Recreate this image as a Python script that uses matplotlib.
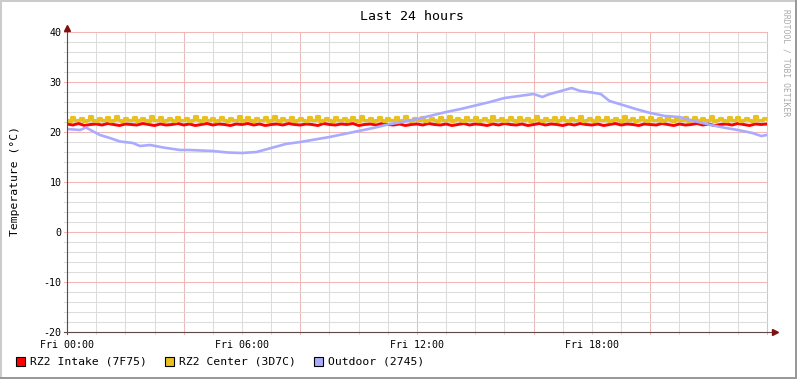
import matplotlib.pyplot as plt
import numpy as np
from matplotlib.patches import Rectangle

# data (hours since Fri 00:00, deg C)
series_names = ['RZ2 Intake (7F75)', 'RZ2 Center (3D7C)', 'Outdoor (2745)']
series_colors = ['#FF0000', '#E8C020', '#AAAAFF']

intake_hours = np.linspace(0, 24, 121)
intake = [
    21.6, 21.4, 21.7, 21.3, 21.5, 21.6, 21.4, 21.7, 21.5, 21.3,
    21.6, 21.5, 21.4, 21.7, 21.5, 21.3, 21.6, 21.4, 21.5, 21.7,
    21.4, 21.6, 21.3, 21.5, 21.7, 21.4, 21.6, 21.5, 21.3, 21.6,
    21.5, 21.7, 21.4, 21.6, 21.3, 21.5, 21.6, 21.4, 21.7, 21.5,
    21.4, 21.6, 21.5, 21.3, 21.7, 21.5, 21.4, 21.6, 21.5, 21.7,
    21.3, 21.5, 21.6, 21.4, 21.7, 21.5, 21.4, 21.6, 21.3, 21.5,
    21.6, 21.4, 21.7, 21.5, 21.4, 21.6, 21.3, 21.5, 21.7, 21.4,
    21.6, 21.5, 21.3, 21.6, 21.4, 21.7, 21.5, 21.4, 21.6, 21.3,
    21.5, 21.7, 21.4, 21.6, 21.5, 21.3, 21.6, 21.4, 21.7, 21.5,
    21.4, 21.6, 21.3, 21.5, 21.7, 21.4, 21.6, 21.5, 21.3, 21.6,
    21.5, 21.4, 21.7, 21.5, 21.3, 21.6, 21.4, 21.5, 21.7, 21.4,
    21.6, 21.3, 21.5, 21.6, 21.4, 21.7, 21.5, 21.3, 21.6, 21.5,
    21.6,
]

center_hours = np.linspace(0, 24, 241)
center = [
    22.4, 22.3, 23.1, 22.5, 22.4, 22.9, 22.3, 22.5, 23.2, 22.4, 22.3, 22.8,
    22.5, 22.4, 23.0, 22.3, 22.4, 23.2, 22.5, 22.3, 22.9, 22.4, 22.5, 23.1,
    22.3, 22.4, 22.8, 22.5, 22.3, 23.2, 22.4, 22.5, 23.0, 22.3, 22.4, 22.9,
    22.5, 22.3, 23.1, 22.4, 22.5, 22.8, 22.3, 22.4, 23.2, 22.5, 22.3, 23.0,
    22.4, 22.5, 22.9, 22.3, 22.4, 23.1, 22.5, 22.3, 22.8, 22.4, 22.5, 23.2,
    22.3, 22.5, 23.0, 22.4, 22.3, 22.9, 22.5, 22.4, 23.1, 22.3, 22.5, 23.2,
    22.4, 22.3, 22.8, 22.5, 22.4, 23.1, 22.3, 22.5, 22.9, 22.4, 22.3, 23.0,
    22.5, 22.4, 23.2, 22.3, 22.5, 22.8, 22.4, 22.3, 23.1, 22.5, 22.4, 22.9,
    22.3, 22.5, 23.1, 22.4, 22.3, 23.2, 22.5, 22.4, 22.8, 22.3, 22.5, 23.0,
    22.4, 22.3, 22.9, 22.5, 22.4, 23.1, 22.3, 22.5, 23.2, 22.4, 22.3, 22.8,
    22.5, 22.4, 23.0, 22.3, 22.5, 22.9, 22.4, 22.3, 23.1, 22.5, 22.4, 23.2,
    22.3, 22.5, 22.8, 22.4, 22.3, 23.0, 22.5, 22.4, 23.1, 22.3, 22.5, 22.9,
    22.4, 22.3, 23.2, 22.5, 22.4, 22.8, 22.3, 22.5, 23.0, 22.4, 22.3, 23.1,
    22.5, 22.4, 22.9, 22.3, 22.5, 23.2, 22.4, 22.3, 22.8, 22.5, 22.4, 23.0,
    22.3, 22.5, 23.1, 22.4, 22.3, 22.9, 22.5, 22.4, 23.2, 22.3, 22.5, 22.8,
    22.4, 22.3, 23.0, 22.5, 22.4, 23.1, 22.3, 22.5, 22.9, 22.4, 22.3, 23.2,
    22.5, 22.4, 22.8, 22.3, 22.5, 23.0, 22.4, 22.3, 23.1, 22.5, 22.4, 22.9,
    22.3, 22.5, 23.2, 22.4, 22.3, 22.8, 22.5, 22.4, 23.0, 22.3, 22.5, 23.1,
    22.4, 22.3, 22.9, 22.5, 22.4, 23.2, 22.3, 22.5, 22.8, 22.4, 22.3, 23.0,
    22.5, 22.4, 23.1, 22.3, 22.5, 22.9, 22.4, 22.3, 23.2, 22.5, 22.4, 22.8,
    22.6,
]

outdoor_hours = [0.0, 0.45, 0.65, 0.9, 1.13, 1.47, 1.82, 2.26, 2.5, 2.85, 3.3, 3.87,
                 4.2, 4.6, 5.0, 5.5, 6.0, 6.5, 7.0, 7.5, 8.0, 8.5, 9.0, 9.5, 10.0,
                 10.5, 11.0, 11.5, 12.0, 12.5, 13.0, 13.5, 14.0, 14.5, 15.0, 15.5,
                 16.0, 16.3, 16.5, 17.0, 17.3, 17.6, 18.0, 18.3, 18.6, 19.0, 19.5,
                 20.0, 20.5, 21.0, 21.5, 22.0, 22.5, 23.0, 23.5, 23.8, 24.0]
outdoor = [20.6, 20.4, 20.9, 20.1, 19.4, 18.8, 18.1, 17.8, 17.2, 17.4, 16.9, 16.4,
           16.4, 16.3, 16.2, 15.9, 15.8, 16.0, 16.8, 17.6, 18.0, 18.5, 19.0, 19.6,
           20.2, 20.8, 21.5, 22.0, 22.6, 23.3, 24.0, 24.6, 25.3, 26.0, 26.8, 27.2,
           27.6, 27.0, 27.5, 28.3, 28.8, 28.2, 27.9, 27.6, 26.2, 25.5, 24.6, 23.8,
           23.2, 23.0, 22.2, 21.5, 20.9, 20.4, 19.8, 19.2, 19.4]

x_tick_hours = [0, 6, 12, 18]
x_tick_labels = ['Fri 00:00', 'Fri 06:00', 'Fri 12:00', 'Fri 18:00']
y_ticks = [-20, -10, 0, 10, 20, 30, 40]

W, H = 797, 379
mono = 'DejaVu Sans Mono'
minor_col = '#DCDCDC'
major_col = '#F2B8B8'
axis_col = '#5A4A4A'
arrow_col = '#7F1010'

fig = plt.figure(figsize=(W / 100, H / 100), dpi=100, facecolor='white')
ax = fig.add_axes([67 / W, 47 / H, 700 / W, 300 / H])
ax.set_xlim(0, 24)
ax.set_ylim(-20, 40)
for s in ax.spines.values():
    s.set_visible(False)

# grid (drawn by hand so minor / major get rrdtool colours and small stubs)
for h in range(0, 25):
    col = major_col if h % 4 == 0 else minor_col
    ax.axvline(h, ymin=-0.008, ymax=1, color=col, lw=0.75, clip_on=False, zorder=1)
for v in range(-20, 41, 2):
    col = major_col if v % 10 == 0 else minor_col
    ax.axhline(v, xmin=-0.004, xmax=1, color=col, lw=0.75, clip_on=False, zorder=1)

# data lines
ax.plot(intake_hours, intake, color=series_colors[0], lw=2.1, zorder=3)
ax.plot(center_hours, center, color=series_colors[1], lw=2.3, drawstyle='steps-mid', zorder=4)
ax.plot(outdoor_hours, outdoor, color=series_colors[2], lw=1.9, zorder=5)

# axes with arrows
ax.plot([-0.004, 1.01], [0, 0], transform=ax.transAxes, color=axis_col, lw=0.8,
        clip_on=False, zorder=6)
ax.plot([0, 0], [-0.008, 1.012], transform=ax.transAxes, color=axis_col, lw=0.8,
        clip_on=False, zorder=6)
ax.plot([1.012], [0], transform=ax.transAxes, marker='>', ms=4, color=arrow_col,
        clip_on=False, zorder=7)
ax.plot([0], [1.015], transform=ax.transAxes, marker='^', ms=4, color=arrow_col,
        clip_on=False, zorder=7)

ax.set_xticks(x_tick_hours)
ax.set_xticklabels(x_tick_labels, fontfamily=mono, fontsize=7.2)
ax.set_yticks(y_ticks)
ax.set_yticklabels([str(v) for v in y_ticks], fontfamily=mono, fontsize=7.2)
ax.tick_params(axis='x', length=0, pad=6)
ax.tick_params(axis='y', length=0, pad=4)

fig.text(412 / W, 1 - 16 / H, 'Last 24 hours', ha='center', va='center',
         fontfamily=mono, fontsize=9.5)
fig.text(15 / W, 1 - 181 / H, 'Temperature (°C)', ha='center', va='center',
         rotation=90, fontfamily=mono, fontsize=8.2)
fig.text(786 / W, 1 - 63 / H, 'RRDTOOL / TOBI OETIKER', ha='center', va='center',
         rotation=270, fontfamily=mono, fontsize=5.8, color='#AAAAAA')

# legend
legend_x = [16, 165, 314]
for name, col, lx in zip(series_names, series_colors, legend_x):
    fig.patches.append(Rectangle((lx / W, 1 - 366 / H), 9 / W, 9 / H,
                                 transform=fig.transFigure, facecolor=col,
                                 edgecolor='black', lw=0.8))
    fig.text((lx + 14) / W, 1 - 361 / H, name, ha='left', va='center',
             fontfamily=mono, fontsize=8.2)

# frame shading
fig.patches.append(Rectangle((0, 0), 2 / W, 1, transform=fig.transFigure,
                             facecolor='#CBCBCB', lw=0))
fig.patches.append(Rectangle((0, 1 - 2 / H), 1, 2 / H, transform=fig.transFigure,
                             facecolor='#CBCBCB', lw=0))
fig.patches.append(Rectangle((1 - 2 / W, 0), 2 / W, 1, transform=fig.transFigure,
                             facecolor='#999999', lw=0))
fig.patches.append(Rectangle((0, 0), 1, 2 / H, transform=fig.transFigure,
                             facecolor='#999999', lw=0))

plt.savefig('out.png', dpi=100)
